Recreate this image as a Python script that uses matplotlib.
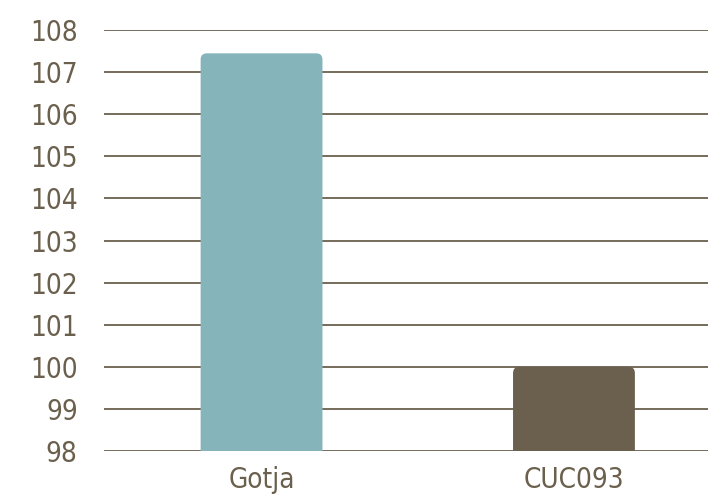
import matplotlib.pyplot as plt
from matplotlib.patches import FancyBboxPatch

categorias = ['Gotja', 'CUC093']
valores = [107.45, 100.0]
colores = ['#85b4bb', '#6a604d']
yticks = list(range(98, 109))

texto = '#6a604d'
plt.rcParams['font.family'] = ['DejaVu Sans']
plt.rcParams['font.stretch'] = 'condensed'

fig = plt.figure(figsize=(7.08, 4.95), dpi=100)
ax = fig.add_axes([0.147, 0.089, 0.853, 0.85])

ax.set_ylim(98, 108)
ax.set_xlim(-0.504, 1.429)
ax.set_yticks(yticks)
ax.grid(axis='y', color='#6a604d', linewidth=1.3)
ax.set_axisbelow(True)

ancho = 0.39
x = list(range(len(categorias)))
# barras con esquinas superiores redondeadas
for xi, v, c in zip(x, valores, colores):
    p = FancyBboxPatch((xi - ancho / 2, 97), ancho, v - 97,
                       boxstyle='round,pad=0,rounding_size=0.02',
                       mutation_aspect=7.4, facecolor=c, edgecolor='none',
                       zorder=3)
    ax.add_patch(p)

ax.set_xticks(x)
ax.set_xticklabels(categorias)
for s in ax.spines.values():
    s.set_visible(False)
ax.tick_params(axis='both', length=0, colors=texto, labelsize=20)
ax.tick_params(axis='y', pad=19)
ax.tick_params(axis='x', pad=11)

plt.savefig('out.png', dpi=100)
